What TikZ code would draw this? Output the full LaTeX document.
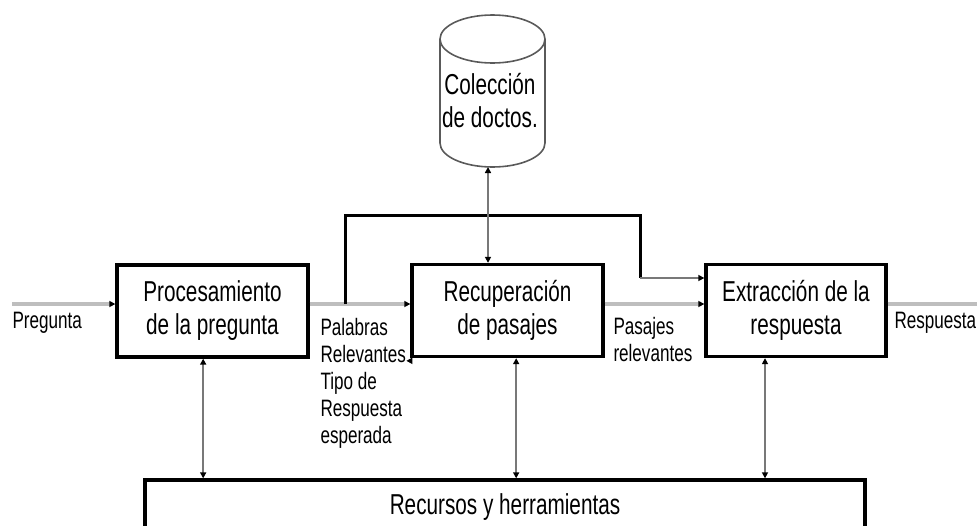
\documentclass[tikz,border=0pt]{standalone}
\usepackage{fontspec}
\setmainfont{Liberation Sans}[FakeStretch=0.72]
\usetikzlibrary{arrows.meta}

\definecolor{flowgray}{RGB}{190,190,190}
\definecolor{linkgray}{RGB}{120,120,120}
\definecolor{cylgray}{RGB}{90,90,90}

\tikzset{every picture/.style={line width=0.75pt}}
\tikzset{
  box/.style={draw, line width=2.5pt, minimum height=69pt, inner sep=0pt, align=center,
    font=\fontsize{21.6}{24.75}\selectfont},
  lbl/.style={anchor=north west, inner sep=0pt, align=left,
    font=\fontsize{17.8}{20.25}\selectfont},
  tipblk/.tip={Triangle[length=4.5pt,width=4.5pt,color=black]},
  flow/.style={draw=flowgray, line width=3pt, -tipblk},
  link/.style={draw=linkgray, line width=1.2pt, tipblk-tipblk},
  feed/.style={draw=black, line width=2.25pt},
}

\begin{document}
\begin{tikzpicture}[x=0.75pt,y=0.75pt,yscale=-1,xscale=1]
\useasboundingbox (0,0) rectangle (977,525);

%Shape: Boxes
\node[box, minimum width=143.25pt] (pro) at (212.5,311) {Procesamiento\\de la pregunta};
\node[box, minimum width=143.25pt] (rec) at (507.5,310.5) {Recuperación\\de pasajes};
\node[box, minimum width=135pt] (ext) at (796,310.5) {Extracción de la\\respuesta};
\node[box, minimum width=540pt, minimum height=40.5pt] (res) at (505,507) {Recursos y herramientas};

%Shape: Can
\draw[cylgray, line width=1.2pt] (492.5,39) ellipse [x radius=52.5, y radius=24];
\draw[cylgray, line width=1.2pt] (440,39) -- (440,143) arc [start angle=180, end angle=0, x radius=52.5, y radius=24] -- (545,39);
\node[inner sep=0pt, align=center, font=\fontsize{21.6}{24.75}\selectfont] (col) at (490,101) {Colección\\de doctos.};
\coordinate (colbot) at (488,167);

%Straight Lines
\coordinate (in) at (12,304);
\coordinate (out) at (977,304);
\coordinate (fork) at (345,304);
\coordinate (bend) at (640,278);
\draw[flow] (in) -- (in -| pro.west);
\draw[flow] (in -| pro.east) -- (in -| rec.west);
\draw[flow] (in -| rec.east) -- (in -| ext.west);
\draw[flowgray, line width=3pt] (in -| ext.east) -- (out);
\draw[feed] (fork) |- (640,215) -- (bend);
\draw[link, -tipblk] (bend) -- (bend -| ext.west);
\draw[link] (colbot) -- (colbot |- rec.north);
\draw[link] ([xshift=-7pt]pro.south) -- ([xshift=-7pt]pro.south |- res.north);
\draw[link] ([xshift=6.5pt]rec.south) -- ([xshift=6.5pt]rec.south |- res.north);
\draw[link] ([xshift=-23.25pt]ext.south) -- ([xshift=-23.25pt]ext.south |- res.north);
\draw[link, -tipblk] ([yshift=2pt]rec.south west) -- ++(-4,0);

% Text Node
\node[lbl] (preg) at (12,312) {Pregunta};
% Text Node
\node[lbl] (pal) at (320,318) {Palabras\\Relevantes\\Tipo de\\Respuesta\\esperada};
% Text Node
\node[lbl] (pas) at (613,317) {Pasajes\\relevantes};
% Text Node
\node[lbl] (resp) at (894,312) {Respuesta};

\end{tikzpicture}
\end{document}
